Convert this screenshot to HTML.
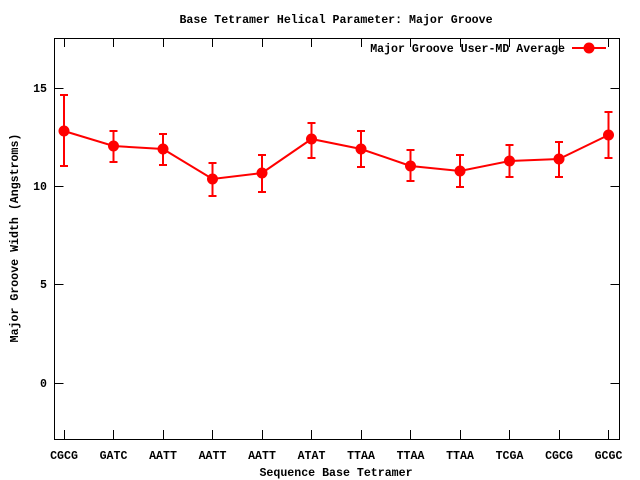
<!DOCTYPE html>
<html><head><meta charset="utf-8"><style>html,body{margin:0;padding:0;background:#fff}svg{display:block}text{font-family:"Liberation Mono",monospace;font-weight:bold;font-size:11.6px;fill:#000}</style></head><body>
<svg width="640" height="480" viewBox="0 0 640 480" xmlns="http://www.w3.org/2000/svg">
<rect x="54.5" y="38.5" width="565" height="401" fill="none" stroke="#000" stroke-width="1"/>
<g stroke="#000" stroke-width="1">
<path d="M54.5 88.5h9M619.5 88.5h-9M54.5 186.5h9M619.5 186.5h-9M54.5 284.5h9M619.5 284.5h-9M54.5 383.5h9M619.5 383.5h-9"/>
<path d="M64.5 439v-9M64.5 38v9M113.5 439v-9M113.5 38v9M163.5 439v-9M163.5 38v9M212.5 439v-9M212.5 38v9M262.5 439v-9M262.5 38v9M311.5 439v-9M311.5 38v9M361.5 439v-9M361.5 38v9M410.5 439v-9M410.5 38v9M460.5 439v-9M460.5 38v9M509.5 439v-9M509.5 38v9M559.5 439v-9M559.5 38v9M608.5 439v-9M608.5 38v9"/>
</g>
<g text-anchor="end"><text x="47" y="92">15</text><text x="47" y="190">10</text><text x="47" y="288">5</text><text x="47" y="387">0</text></g>
<g text-anchor="middle">
<text x="64" y="459">CGCG</text><text x="113.5" y="459">GATC</text><text x="163" y="459">AATT</text><text x="212.5" y="459">AATT</text><text x="262" y="459">AATT</text><text x="311.5" y="459">ATAT</text><text x="361" y="459">TTAA</text><text x="410.5" y="459">TTAA</text><text x="460" y="459">TTAA</text><text x="509.5" y="459">TCGA</text><text x="559" y="459">CGCG</text><text x="608.5" y="459">GCGC</text>
<text x="336" y="23">Base Tetramer Helical Parameter: Major Groove</text>
<text x="336" y="476">Sequence Base Tetramer</text>
<text transform="translate(18,238) rotate(-90)">Major Groove Width (Angstroms)</text>
</g>
<text x="565" y="52" text-anchor="end">Major Groove User-MD Average</text>
<g stroke="#f00" stroke-width="2" fill="none">
<path d="M572 48H606"/>
<polyline points="64,131 113.5,146 163,149 212.5,179 262,173 311.5,139 361,149 410.5,166 460,171 509.5,161 559,159 608.5,135"/>
<path d="M64 95V166M60 95h8M60 166h8
M113.5 131V162M109.5 131h8M109.5 162h8
M163 134V165M159 134h8M159 165h8
M212.5 163V196M208.5 163h8M208.5 196h8
M262 155V192M258 155h8M258 192h8
M311.5 123V158M307.5 123h8M307.5 158h8
M361 131V167M357 131h8M357 167h8
M410.5 150V181M406.5 150h8M406.5 181h8
M460 155V187M456 155h8M456 187h8
M509.5 145V177M505.5 145h8M505.5 177h8
M559 142V177M555 142h8M555 177h8
M608.5 112V158M604.5 112h8M604.5 158h8"/>
</g>
<g fill="#f00">
<circle cx="589" cy="48" r="5.5"/>
<circle cx="64" cy="131" r="5.5"/><circle cx="113.5" cy="146" r="5.5"/><circle cx="163" cy="149" r="5.5"/><circle cx="212.5" cy="179" r="5.5"/><circle cx="262" cy="173" r="5.5"/><circle cx="311.5" cy="139" r="5.5"/><circle cx="361" cy="149" r="5.5"/><circle cx="410.5" cy="166" r="5.5"/><circle cx="460" cy="171" r="5.5"/><circle cx="509.5" cy="161" r="5.5"/><circle cx="559" cy="159" r="5.5"/><circle cx="608.5" cy="135" r="5.5"/>
</g>
</svg>
</body></html>
